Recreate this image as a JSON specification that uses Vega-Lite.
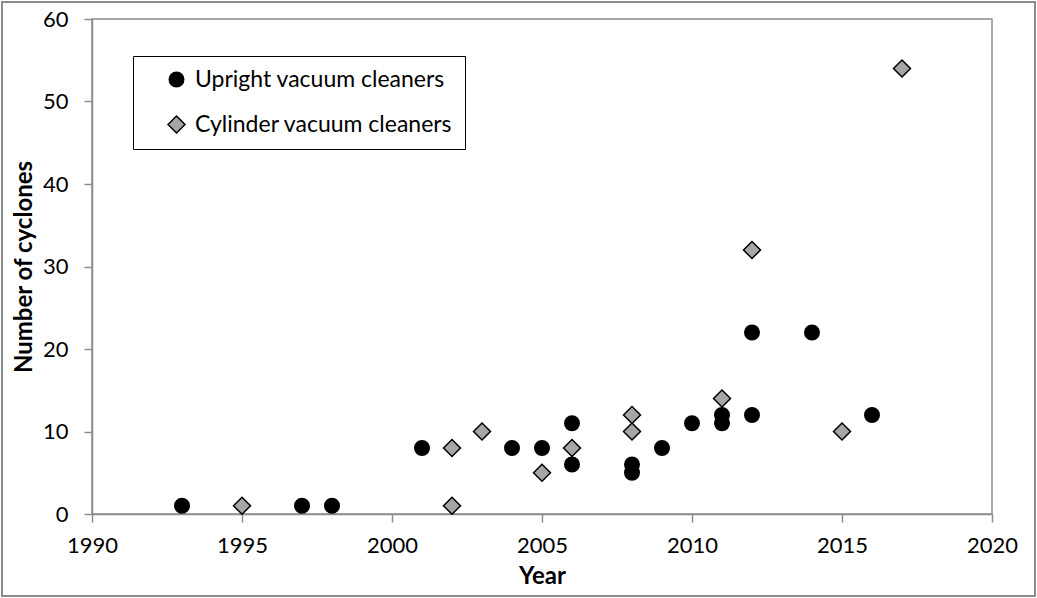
{
  "$schema": "https://vega.github.io/schema/vega-lite/v6.json",
  "width": 900,
  "height": 495,
  "autosize": {"type": "none"},
  "padding": {"left": 92, "top": 19, "right": 45, "bottom": 84},
  "background": "white",
  "config": {
    "font": "Lato",
    "view": {"stroke": "#8c8c8c", "strokeWidth": 1.5},
    "axis": {
      "gridColor": "#8c8c8c",
      "gridWidth": 1.5,
      "gridOpacity": 1,
      "domainColor": "#8c8c8c",
      "domainWidth": 1.5,
      "tickColor": "#8c8c8c",
      "tickWidth": 1.5,
      "tickSize": 8,
      "labelFont": "Lato",
      "labelFontSize": 22,
      "labelColor": "black",
      "titleFont": "Lato",
      "titleFontSize": 24,
      "titleFontWeight": "bold",
      "titleColor": "black"
    },
    "legend": {
      "labelFont": "Lato",
      "labelFontSize": 23,
      "labelColor": "black",
      "labelLimit": 500
    }
  },
  "data": {
    "values": [
      {"year": 1993, "cyclones": 1, "type": "Upright vacuum cleaners"},
      {"year": 1997, "cyclones": 1, "type": "Upright vacuum cleaners"},
      {"year": 1998, "cyclones": 1, "type": "Upright vacuum cleaners"},
      {"year": 2001, "cyclones": 8, "type": "Upright vacuum cleaners"},
      {"year": 2004, "cyclones": 8, "type": "Upright vacuum cleaners"},
      {"year": 2005, "cyclones": 8, "type": "Upright vacuum cleaners"},
      {"year": 2006, "cyclones": 11, "type": "Upright vacuum cleaners"},
      {"year": 2006, "cyclones": 6, "type": "Upright vacuum cleaners"},
      {"year": 2008, "cyclones": 6, "type": "Upright vacuum cleaners"},
      {"year": 2008, "cyclones": 5, "type": "Upright vacuum cleaners"},
      {"year": 2009, "cyclones": 8, "type": "Upright vacuum cleaners"},
      {"year": 2010, "cyclones": 11, "type": "Upright vacuum cleaners"},
      {"year": 2011, "cyclones": 12, "type": "Upright vacuum cleaners"},
      {"year": 2011, "cyclones": 11, "type": "Upright vacuum cleaners"},
      {"year": 2012, "cyclones": 22, "type": "Upright vacuum cleaners"},
      {"year": 2012, "cyclones": 12, "type": "Upright vacuum cleaners"},
      {"year": 2014, "cyclones": 22, "type": "Upright vacuum cleaners"},
      {"year": 2016, "cyclones": 12, "type": "Upright vacuum cleaners"},
      {"year": 1995, "cyclones": 1, "type": "Cylinder vacuum cleaners"},
      {"year": 2002, "cyclones": 8, "type": "Cylinder vacuum cleaners"},
      {"year": 2002, "cyclones": 1, "type": "Cylinder vacuum cleaners"},
      {"year": 2003, "cyclones": 10, "type": "Cylinder vacuum cleaners"},
      {"year": 2005, "cyclones": 5, "type": "Cylinder vacuum cleaners"},
      {"year": 2006, "cyclones": 8, "type": "Cylinder vacuum cleaners"},
      {"year": 2008, "cyclones": 12, "type": "Cylinder vacuum cleaners"},
      {"year": 2008, "cyclones": 10, "type": "Cylinder vacuum cleaners"},
      {"year": 2011, "cyclones": 14, "type": "Cylinder vacuum cleaners"},
      {"year": 2012, "cyclones": 32, "type": "Cylinder vacuum cleaners"},
      {"year": 2015, "cyclones": 10, "type": "Cylinder vacuum cleaners"},
      {"year": 2017, "cyclones": 54, "type": "Cylinder vacuum cleaners"}
    ]
  },
  "layer": [
    {
      "mark": {"type": "rect", "fill": null, "stroke": "#8c8c8c", "strokeWidth": 1.5, "clip": false},
      "encoding": {
        "x": {"datum": 1987.0, "type": "quantitative"},
        "x2": {"datum": 2021.43},
        "y": {"datum": 62.06, "type": "quantitative"},
        "y2": {"datum": -9.94}
      }
    },
    {
      "mark": {"type": "point", "filled": true, "stroke": "black", "strokeWidth": 1.5, "opacity": 1},
      "encoding": {
        "x": {
          "field": "year",
          "type": "quantitative",
          "scale": {"domain": [1990, 2020], "nice": false, "zero": false},
          "axis": {
            "title": "Year",
            "values": [1990, 1995, 2000, 2005, 2010, 2015, 2020],
            "format": "d",
            "labelPadding": 13,
            "titlePadding": 8,
            "labelFlush": false
          }
        },
        "y": {
          "field": "cyclones",
          "type": "quantitative",
          "scale": {"domain": [0, 60], "nice": false},
          "axis": {
            "title": "Number of cyclones",
            "values": [0, 10, 20, 30, 40, 50, 60],
            "labelPadding": 16,
            "titlePadding": 6
          }
        },
        "shape": {
          "field": "type",
          "type": "nominal",
          "scale": {"domain": ["Upright vacuum cleaners", "Cylinder vacuum cleaners"], "range": ["circle", "diamond"]},
          "legend": {
            "title": null,
            "orient": "none",
            "legendX": 41,
            "legendY": 37,
            "strokeColor": "black",
            "fillColor": "white",
            "padding": 12,
            "symbolOffset": 20,
            "rowPadding": 21,
            "labelOffset": 7,
            "encode": {"symbols": {"update": {"stroke": {"value": "black"}, "strokeWidth": {"value": 1.5}}}}
          }
        },
        "fill": {
          "field": "type",
          "type": "nominal",
          "scale": {"domain": ["Upright vacuum cleaners", "Cylinder vacuum cleaners"], "range": ["black", "#a6a6a6"]},
          "legend": {
            "title": null,
            "orient": "none",
            "legendX": 41,
            "legendY": 37,
            "strokeColor": "black",
            "fillColor": "white",
            "padding": 12,
            "symbolOffset": 20,
            "rowPadding": 21,
            "labelOffset": 7,
            "encode": {"symbols": {"update": {"stroke": {"value": "black"}, "strokeWidth": {"value": 1.5}}}}
          }
        },
        "size": {
          "field": "type",
          "type": "nominal",
          "scale": {"domain": ["Upright vacuum cleaners", "Cylinder vacuum cleaners"], "range": [210, 289]},
          "legend": {
            "title": null,
            "orient": "none",
            "legendX": 41,
            "legendY": 37,
            "strokeColor": "black",
            "fillColor": "white",
            "padding": 12,
            "symbolOffset": 20,
            "rowPadding": 21,
            "labelOffset": 7,
            "encode": {"symbols": {"update": {"stroke": {"value": "black"}, "strokeWidth": {"value": 1.5}}}}
          }
        }
      }
    }
  ]
}
